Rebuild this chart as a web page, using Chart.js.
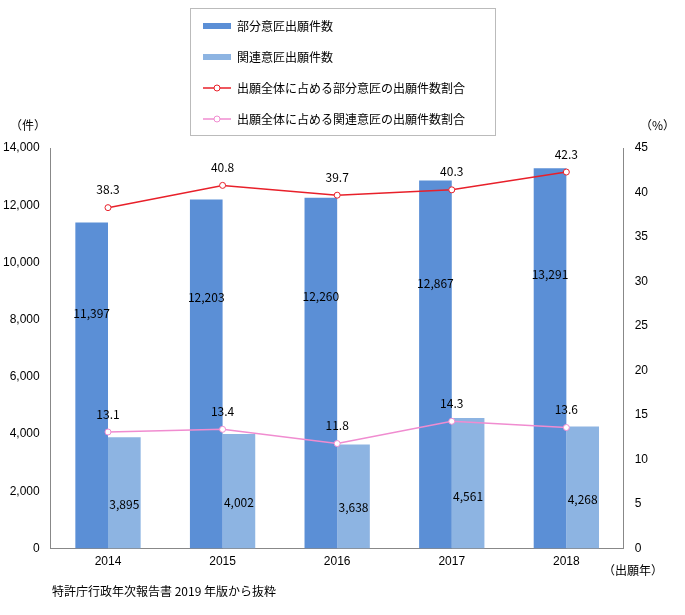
<!DOCTYPE html>
<html><head><meta charset="utf-8">
<script src="https://cdn.jsdelivr.net/npm/chart.js@4"></script>
<style>
body{margin:0;background:#fff;font-family:"Noto Sans CJK JP",sans-serif;}
#wrap{position:relative;width:685px;height:615px;}
#c{position:absolute;left:0;top:0;}
.t{position:absolute;font-size:12px;color:#000;white-space:nowrap;}
#legend{position:absolute;left:190px;top:8px;width:306px;height:128px;border:1px solid #bbb;box-sizing:border-box;font-size:12px;}
.li{position:absolute;left:12px;display:flex;align-items:center;}
.sw{width:28px;height:6px;margin-right:6px;}
</style></head><body>
<div id="wrap">
<canvas id="c" width="685" height="615"></canvas>
<div id="legend">
 <div class="li" style="top:8px"><span class="sw" style="background:#5B8FD6"></span>部分意匠出願件数</div>
 <div class="li" style="top:39px"><span class="sw" style="background:#8DB4E2"></span>関連意匠出願件数</div>
 <div class="li" style="top:70px"><svg width="28" height="10" style="margin-right:6px"><line x1="0" y1="5" x2="28" y2="5" stroke="#E8202A" stroke-width="1.5"/><circle cx="14" cy="5" r="3" fill="#fff" stroke="#E8202A"/></svg>出願全体に占める部分意匠の出願件数割合</div>
 <div class="li" style="top:101px"><svg width="28" height="10" style="margin-right:6px"><line x1="0" y1="5" x2="28" y2="5" stroke="#F08CD0" stroke-width="1.5"/><circle cx="14" cy="5" r="3" fill="#fff" stroke="#F08CD0"/></svg>出願全体に占める関連意匠の出願件数割合</div>
</div>
<div class="t" style="left:10px;top:116px">（件）</div>
<div class="t" style="left:640px;top:116px">（%）</div>
<div class="t" style="left:603px;top:561px">（出願年）</div>
<div class="t" style="left:52px;top:582px">特許庁行政年次報告書 2019 年版から抜粋</div>
</div>
<script>
const years=['2014','2015','2016','2017','2018'];
const partial=[11397,12203,12260,12867,13291];
const related=[3895,4002,3638,4561,4268];
const partialPct=[38.3,40.8,39.7,40.3,42.3];
const relatedPct=[13.1,13.4,11.8,14.3,13.6];
const labels={id:'labels',afterDatasetsDraw(ch){
 const ctx=ch.ctx;ctx.save();ctx.font='12px "Noto Sans CJK JP", sans-serif';ctx.fillStyle='#000';ctx.textAlign='center';ctx.textBaseline='middle';
 ch.data.datasets.forEach((ds,i)=>{const m=ch.getDatasetMeta(i);m.data.forEach((el,j)=>{
  const v=ds.data[j];
  if(ds.type==='line'){ctx.fillText(v.toFixed(1),el.x,el.y-18);}
  else{const s=v.toLocaleString('en-US');const h=el.base-el.y;ctx.fillText(s,el.x,el.y+h*(i===2?0.28:0.6));}
 });});ctx.restore();}};
new Chart(document.getElementById('c'),{
 type:'bar',
 data:{labels:years,datasets:[
  {type:'line',data:partialPct,yAxisID:'y1',borderColor:'#E8202A',backgroundColor:'#fff',borderWidth:1.5,pointRadius:3,pointBorderWidth:1,order:0},
  {type:'line',data:relatedPct,yAxisID:'y1',borderColor:'#F08CD0',backgroundColor:'#fff',borderWidth:1.5,pointRadius:3,pointBorderWidth:1,order:0},
  {data:partial,backgroundColor:'#5B8FD6',yAxisID:'y',order:1,categoryPercentage:0.57,barPercentage:1},
  {data:related,backgroundColor:'#8DB4E2',yAxisID:'y',order:1,categoryPercentage:0.57,barPercentage:1}
 ]},
 options:{responsive:false,animation:false,
  layout:{padding:{left:0,right:34,top:148,bottom:40}},
  plugins:{legend:{display:false},tooltip:{enabled:false}},
  scales:{
   x:{grid:{display:false,drawTicks:false},border:{color:'#888'},ticks:{color:'#000',font:{size:12},padding:6}},
   y:{min:0,max:14000,position:'left',ticks:{stepSize:2000,color:'#000',font:{size:12},callback:v=>v.toLocaleString('en-US')},grid:{display:false},border:{color:'#888'}},
   y1:{min:0,max:45,position:'right',ticks:{stepSize:5,color:'#000',font:{size:12}},grid:{display:false},border:{color:'#888'}}
  }},
 plugins:[labels]
});
</script></body></html>
